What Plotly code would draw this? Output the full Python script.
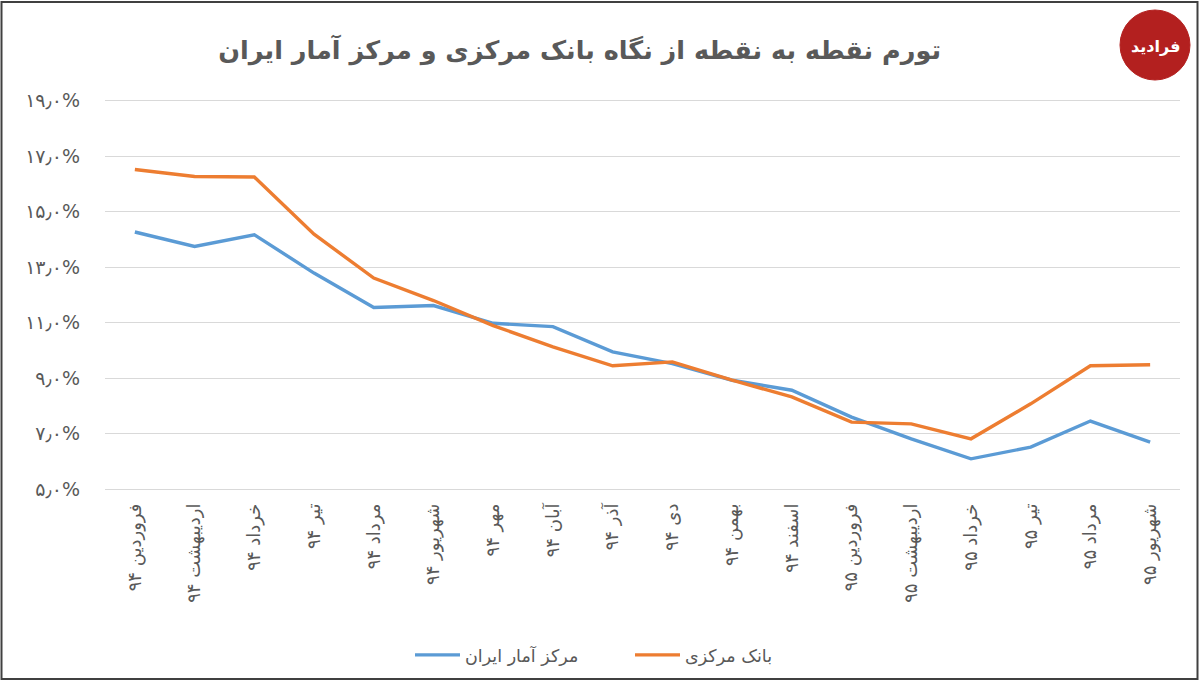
import plotly.graph_objects as go

categories = ["فروردین ۹۴", "اردیبهشت ۹۴", "خرداد ۹۴", "تیر ۹۴", "مرداد ۹۴", "شهریور ۹۴",
              "مهر ۹۴", "آبان ۹۴", "آذر ۹۴", "دی ۹۴", "بهمن ۹۴", "اسفند ۹۴",
              "فروردین ۹۵", "اردیبهشت ۹۵", "خرداد ۹۵", "تیر ۹۵", "مرداد ۹۵", "شهریور ۹۵"]

amar_iran = [14.27, 13.75, 14.17, 12.79, 11.55, 11.62, 10.98, 10.86, 9.95, 9.53,
             8.93, 8.57, 7.60, 6.82, 6.10, 6.52, 7.46, 6.70]
bank_markazi = [16.52, 16.27, 16.25, 14.19, 12.61, 11.80, 10.90, 10.13, 9.45, 9.59,
                8.93, 8.33, 7.42, 7.36, 6.82, 8.08, 9.45, 9.49]

y_tick_vals = [5, 7, 9, 11, 13, 15, 17, 19]
y_tick_text = ["۵٫۰%", "۷٫۰%", "۹٫۰%", "۱۱٫۰%", "۱۳٫۰%", "۱۵٫۰%", "۱۷٫۰%", "۱۹٫۰%"]

title_text = "تورم نقطه به نقطه از نگاه بانک مرکزی و مرکز آمار ایران"
name_blue = "مرکز آمار ایران"
name_orange = "بانک مرکزی"
logo_text = "فرادید"

FONT = "DejaVu Sans, Noto Sans, sans-serif"
GRAY = "#595959"

# plot area in pixels
L, R, T, B = 105, 1180, 99, 491
PW, PH = R - L, B - T


def px(x):
    return (x - L) / PW


def py(y):
    return (B - y) / PH


fig = go.Figure()
fig.add_trace(go.Scatter(x=categories, y=amar_iran, mode="lines", name=name_blue,
                         line=dict(color="#5b9bd5", width=3.4)))
fig.add_trace(go.Scatter(x=categories, y=bank_markazi, mode="lines", name=name_orange,
                         line=dict(color="#ed7d31", width=3.4)))

fig.update_layout(
    width=1200, height=681,
    margin=dict(l=L, r=1200 - R, t=T, b=681 - B),
    paper_bgcolor="white", plot_bgcolor="white",
    font=dict(family=FONT, color=GRAY, size=15),
    title=dict(text="<b>" + title_text + "</b>", xref="container", x=0.483, xanchor="center",
               yref="container", y=1 - 50 / 681, yanchor="middle",
               font=dict(family=FONT, size=25.5, color=GRAY)),
    showlegend=True,
    legend=dict(orientation="h", xref="container", x=0.525, xanchor="center",
                yref="container", y=1 - 655 / 681, yanchor="middle",
                font=dict(family=FONT, size=17.5, color=GRAY),
                itemwidth=45, tracegroupgap=0, entrywidth=160, entrywidthmode="pixels"),
    xaxis=dict(type="category", range=[-0.5, 17.5], showgrid=False, showline=False,
               zeroline=False, ticks="", tickangle=-90, ticklabelstandoff=8,
               tickfont=dict(family=FONT, size=18, color=GRAY), fixedrange=True),
    yaxis=dict(range=[4.94, 19.06], tickvals=y_tick_vals, ticktext=y_tick_text,
               showgrid=True, gridcolor="#d9d9d9", gridwidth=1.2, zeroline=False,
               showline=False, ticks="", ticklabelstandoff=24,
               tickfont=dict(family=FONT, size=19, color=GRAY), fixedrange=True),
)

# outer border
fig.add_shape(type="rect", xref="paper", yref="paper",
              x0=px(1.5), x1=px(1197.5), y0=py(679), y1=py(2),
              line=dict(color="#404040", width=2), fillcolor="rgba(0,0,0,0)", layer="below")

# logo badge
fig.add_shape(type="circle", xref="paper", yref="paper",
              x0=px(1120), x1=px(1190), y0=py(80), y1=py(10),
              line=dict(color="#b3201f", width=1), fillcolor="#b3201f")
fig.add_annotation(text="<b>" + logo_text + "</b>", xref="paper", yref="paper",
                   x=px(1155), y=py(46), xanchor="center", yanchor="middle",
                   showarrow=False, font=dict(family=FONT, size=16, color="white"))

fig.write_html("out.html", config={"displayModeBar": False},
               post_script="document.body.style.margin='0px';")
